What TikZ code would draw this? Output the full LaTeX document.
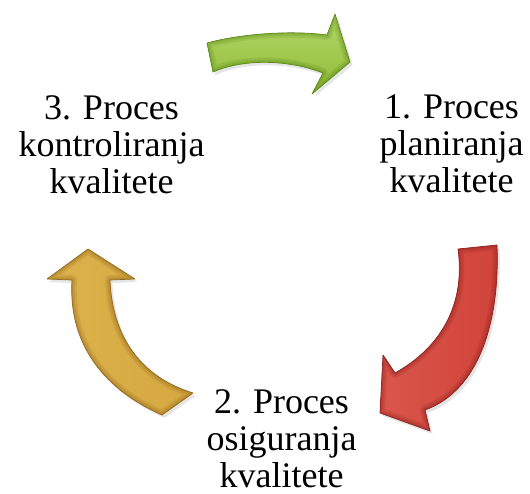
\documentclass[tikz,border=0pt]{standalone}
\usepackage{fontspec}
\newfontfamily\lblfont{LiberationSerif}[Extension=.ttf, UprightFont=*-Regular]
\usetikzlibrary{shadows}
\definecolor{gEdge}{HTML}{5E8A1A}
\definecolor{gTop}{HTML}{B4D768}
\definecolor{gBot}{HTML}{8EBB36}
\definecolor{rEdge}{HTML}{8F221D}
\definecolor{rMain}{HTML}{D0433A}
\definecolor{rLight}{HTML}{DA564C}
\definecolor{yEdge}{HTML}{94691C}
\definecolor{yMain}{HTML}{D5A840}
\definecolor{yLight}{HTML}{DDB24C}
\newcommand\arrG{(207,43) .. controls (240,34) and (290,30) .. (327,35)
  -- (335,14) -- (350,62) -- (312,94) -- (323,73)
  .. controls (290,60) and (245,58) .. (213,72) -- cycle}
\newcommand\arrR{(458,249) -- (497,245)
  .. controls (500,320) and (480,390) .. (425,410)
  -- (430,431) -- (380,413) -- (383,355) -- (395,373)
  .. controls (445,345) and (465,300) .. (458,249) -- cycle}
\newcommand\arrY{(88,249) -- (135,279) -- (110,280)
  .. controls (112,330) and (135,375) .. (193,393)
  -- (162,415)
  .. controls (105,390) and (68,345) .. (72,280)
  -- (47,279) -- cycle}
\tikzset{
  shadowed/.style={drop shadow={opacity=0.2, shadow xshift=2.5pt, shadow yshift=-3pt}},
  bevel/.style={line join=round, draw=#1, draw opacity=0.18},
  label/.style={anchor=base, inner sep=0pt, font=\lblfont\fontsize{36}{37}\selectfont}
}
\begin{document}
\begin{tikzpicture}[x=1pt,y=-1pt]
\useasboundingbox[fill=white] (0,0) rectangle (530,493);
% green arrow (top)
\path[shadowed, top color=gTop, bottom color=gBot] \arrG;
\begin{scope}
  \clip \arrG;
  \draw[bevel=gEdge, line width=10pt] \arrG;
  \draw[bevel=gEdge, line width=6pt] \arrG;
  \draw[bevel=gEdge, line width=3pt] \arrG;
\end{scope}
\draw[gEdge, line width=0.7pt, line join=round] \arrG;
% red arrow (right)
\path[shadowed, left color=rLight, right color=rMain] \arrR;
\begin{scope}
  \clip \arrR;
  \draw[bevel=rEdge, line width=10pt] \arrR;
  \draw[bevel=rEdge, line width=6pt] \arrR;
  \draw[bevel=rEdge, line width=3pt] \arrR;
\end{scope}
\draw[rEdge, line width=0.7pt, line join=round] \arrR;
% yellow arrow (left)
\path[shadowed, left color=yLight, right color=yMain] \arrY;
\begin{scope}
  \clip \arrY;
  \draw[bevel=yEdge, line width=10pt] \arrY;
  \draw[bevel=yEdge, line width=6pt] \arrY;
  \draw[bevel=yEdge, line width=3pt] \arrY;
\end{scope}
\draw[yEdge, line width=0.7pt, line join=round] \arrY;
% labels
\node[label] (plan) at (451.5,118) {\begin{tabular}[t]{@{}c@{}}1. Proces\\planiranja\\kvalitete\end{tabular}};
\node[label] (osig) at (281.5,413) {\begin{tabular}[t]{@{}c@{}}2. Proces\\osiguranja\\kvalitete\end{tabular}};
\node[label] (kontr) at (111.5,119) {\begin{tabular}[t]{@{}c@{}}3. Proces\\kontroliranja\\kvalitete\end{tabular}};
\end{tikzpicture}
\end{document}
